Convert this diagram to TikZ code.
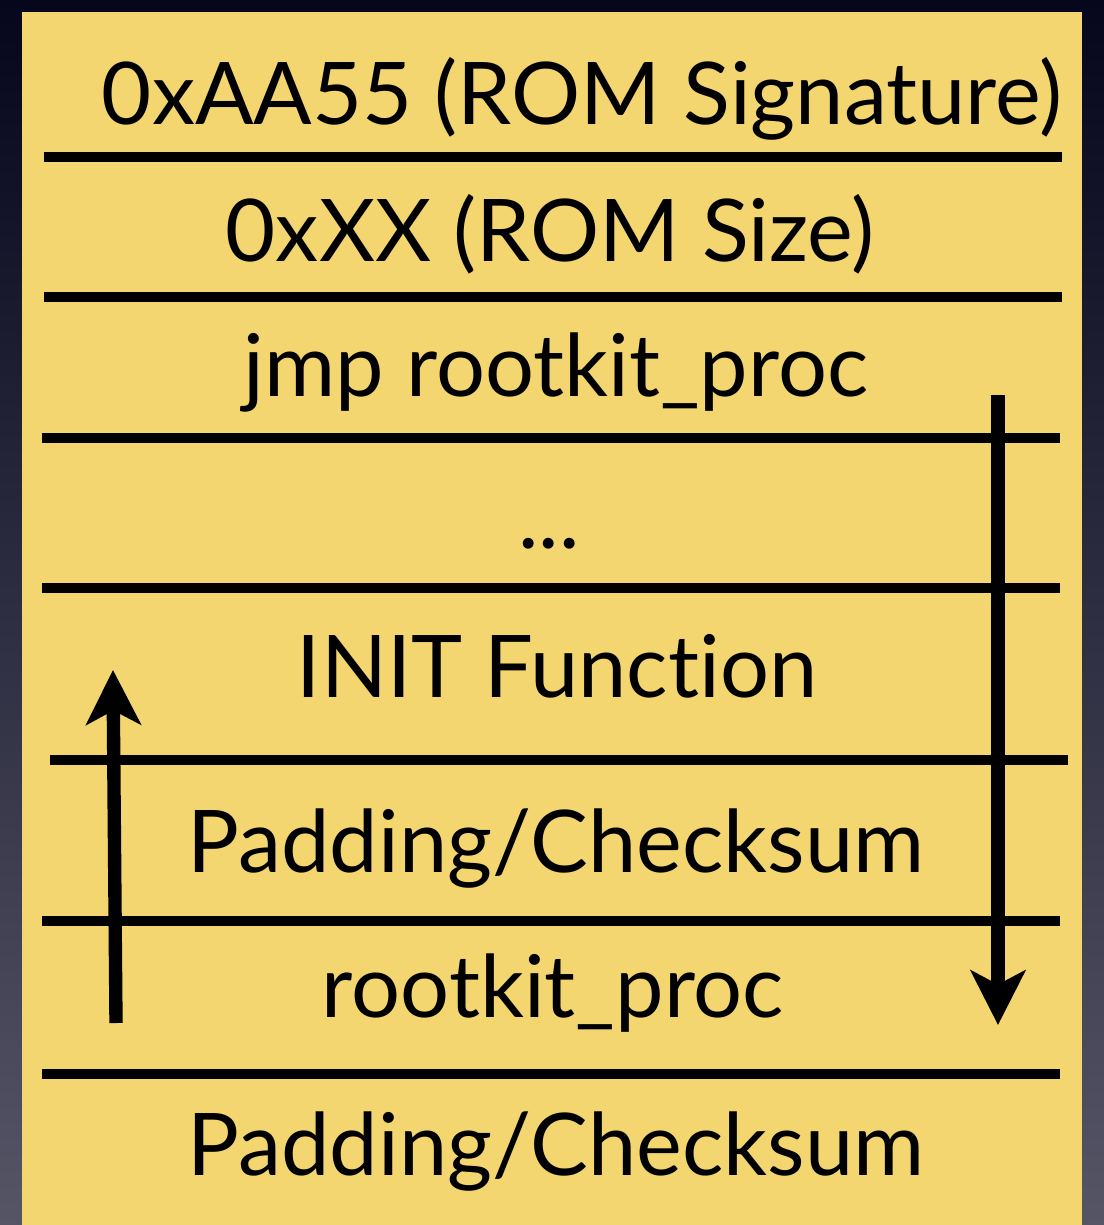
\documentclass[tikz,border=0pt]{standalone}
\usepackage{fontspec}
\setmainfont{Lato}[Ligatures=NoCommon]
\usepackage{tikz}
\usetikzlibrary{arrows.meta}

\definecolor{parchment}{RGB}{243,214,112}
\definecolor{bgtop}{RGB}{6,6,28}
\definecolor{bgbot}{RGB}{86,85,102}

\tikzset{
  field/.style={anchor=base, font=\fontsize{24.6}{29}\selectfont},
  sep/.style={line width=2.9pt},
  jump/.style={line width=3.8pt, -{Triangle[width=15.5pt,length=15.5pt,inset=4pt]}}
}

\begin{document}
\begin{tikzpicture}[x=0.01cm,y=-0.01cm]
\useasboundingbox (0,0) rectangle (1104,1225);
\shade[top color=bgtop, bottom color=bgbot] (0,0) rectangle (1104,1225);
\fill[parchment] (22,12) rectangle (1082,1225);
% fields
\node[field] (sig) at (582,125) {0xAA55 (ROM Signature)};
\node[field] (size) at (550,262) {0xXX (ROM Size)};
\node[field] (jmp) at (556,397) {jmp rootkit\_proc};
\node[field] (dots) at (549,548) {...};
\node[field] (init) at (557,697) {INIT Function};
\node[field] (pad1) at (556,872) {Padding/Checksum};
\node[field] (proc) at (553,1017) {rootkit\_proc};
\node[field] (pad2) at (556,1175) {Padding/Checksum};
% separators
\draw[sep] (44,157)--(1062,157);
\draw[sep] (44,297)--(1062,297);
\draw[sep] (42,438)--(1060,438);
\draw[sep] (42,588)--(1060,588);
\draw[sep] (50,760)--(1068,760);
\draw[sep] (42,921)--(1060,921);
\draw[sep] (42,1074)--(1060,1074);
% jumps
\coordinate (jfrom) at (998,395);
\coordinate (jto) at (998,1025);
\coordinate (rfrom) at (116,1023);
\coordinate (rto) at (113,670);
\draw[jump] (jfrom)--(jto);
\draw[jump] (rfrom)--(rto);
\end{tikzpicture}
\end{document}
